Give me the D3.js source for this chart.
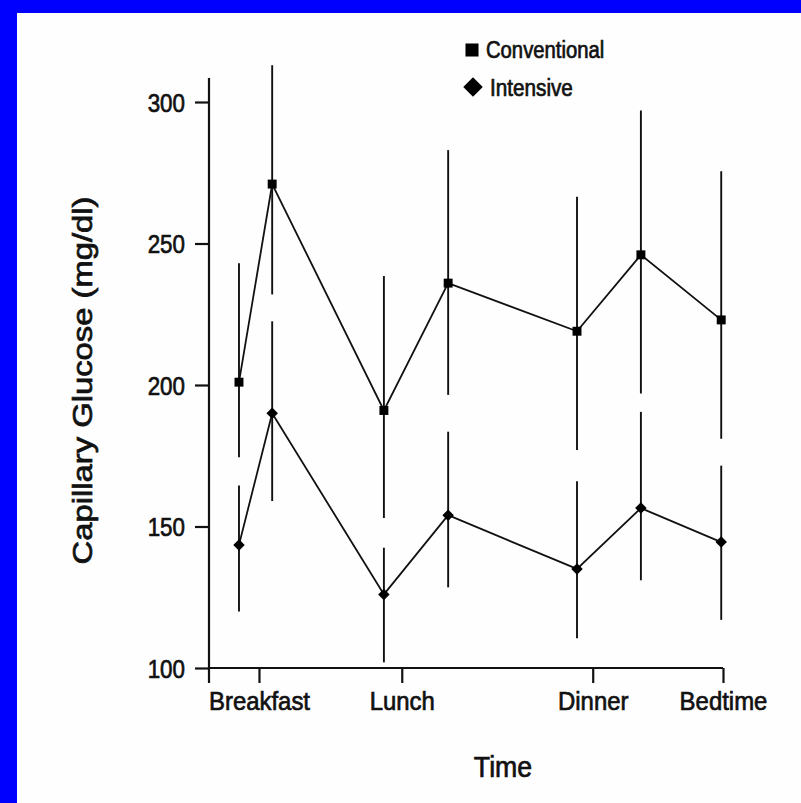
<!DOCTYPE html>
<html>
<head>
<meta charset="utf-8">
<script src="https://cdn.jsdelivr.net/npm/d3@7"></script>
<style>
  html, body { margin: 0; padding: 0; background: #0000ff; }
  svg { display: block; }
  text { font-family: "Liberation Sans", Arial, Helvetica, sans-serif; fill: #111; stroke: #111; stroke-width: 0.7px; }
</style>
</head>
<body>
<svg id="chart" width="801" height="803"></svg>
<script>
// ---- data ----
const times = [7.44, 8.37, 11.5, 13.3, 16.91, 18.7, 20.95];          // hour of measurement
const conventional     = [201, 271, 191, 236, 219, 246, 223];
const conventionalHigh = [243, 313, 238.5, 283, 266.5, 297, 275.5];
const conventionalLow  = [174.5, 232, 153, 196.5, 177, 197, 181];
const intensive        = [143.5, 190, 126, 154, 135, 156.5, 144.5];
const intensiveHigh    = [164.5, 222.5, 142.5, 183.5, 166, 190.5, 171.5];
const intensiveLow     = [120, 159, 102, 128.5, 110.5, 131, 117];
const timeTickValues = [8, 12, 17.35, 21];
const timeTickLabels = ["Breakfast", "Lunch", "Dinner", "Bedtime"];
const glucoseTicks = [100, 150, 200, 250, 300];
const seriesNames = ["Conventional", "Intensive"];

// ---- layout ----
const svg = d3.select("#chart");
svg.append("rect").attr("x", 17).attr("y", 13).attr("width", 801 - 17).attr("height", 803 - 13).attr("fill", "#fefefe");

const x = d3.scaleLinear().domain([6.6, 21]).range([209, 723]);
const y = d3.scaleLinear().domain([100, 300]).range([668, 102]);

function condense(sel, factor) {
  sel.each(function () {
    const w = this.getComputedTextLength();
    d3.select(this).attr("textLength", w * factor).attr("lengthAdjust", "spacingAndGlyphs");
  });
}

// axes lines (extend past the domain as in the original)
const axisColor = "#111";
svg.append("line").attr("x1", x(6.6)).attr("x2", x(6.6)).attr("y1", y(308.5)).attr("y2", y(94.7))
  .attr("stroke", axisColor).attr("stroke-width", 2.2);
svg.append("line").attr("x1", x(6.6)).attr("x2", x(21)).attr("y1", y(100)).attr("y2", y(100))
  .attr("stroke", axisColor).attr("stroke-width", 2.2);

// y axis ticks
const yAxis = d3.axisLeft(y).tickValues(glucoseTicks).tickSize(14).tickSizeOuter(0).tickPadding(10);
const gy = svg.append("g").attr("transform", `translate(${x(6.6)},0)`).call(yAxis);
gy.select(".domain").remove();
gy.selectAll(".tick line").attr("stroke", axisColor).attr("stroke-width", 2.2);
gy.selectAll(".tick text").attr("font-size", 26).attr("fill", "#111").attr("dy", "0.36em")
  .attr("font-family", "Liberation Sans, Arial, sans-serif").call(condense, 0.86);

// x axis ticks
const xAxis = d3.axisBottom(x).tickValues(timeTickValues).tickSize(15).tickSizeOuter(0).tickPadding(9)
  .tickFormat((d, i) => timeTickLabels[i]);
const gx = svg.append("g").attr("transform", `translate(0,${y(100)})`).call(xAxis);
gx.select(".domain").remove();
gx.selectAll(".tick line").attr("stroke", axisColor).attr("stroke-width", 2.2);
gx.selectAll(".tick text").attr("font-size", 26).attr("fill", "#111")
  .attr("font-family", "Liberation Sans, Arial, sans-serif").call(condense, 0.92);

// axis titles
svg.append("text").attr("x", 503).attr("y", 777).attr("text-anchor", "middle")
  .attr("font-size", 29).text("Time").call(condense, 0.92);
svg.append("text").attr("transform", `translate(92,${(198 + 563) / 2}) rotate(-90)`)
  .attr("text-anchor", "middle").attr("font-size", 27)
  .text("Capillary Glucose (mg/dl)")
  .attr("textLength", 368).attr("lengthAdjust", "spacingAndGlyphs");

// ---- marks ----
const lineColor = "#111";
const idx = d3.range(times.length);

// error bars
const bars = svg.append("g").attr("stroke", lineColor).attr("stroke-width", 1.9);
bars.selectAll(".ebc").data(idx).join("line")
  .attr("x1", i => x(times[i])).attr("x2", i => x(times[i]))
  .attr("y1", i => y(conventionalHigh[i])).attr("y2", i => y(conventionalLow[i]));
bars.selectAll(".ebi").data(idx).join("line").attr("class", "ebi")
  .attr("x1", i => x(times[i])).attr("x2", i => x(times[i]))
  .attr("y1", i => y(intensiveHigh[i])).attr("y2", i => y(intensiveLow[i]));

// lines
const line = d3.line().x((d, i) => x(times[i])).y(d => y(d));
svg.append("path").datum(conventional).attr("d", line).attr("fill", "none")
  .attr("stroke", lineColor).attr("stroke-width", 1.8);
svg.append("path").datum(intensive).attr("d", line).attr("fill", "none")
  .attr("stroke", lineColor).attr("stroke-width", 1.8);

// markers
const square = d3.symbol().type(d3.symbolSquare);
svg.append("g").selectAll("path").data(idx).join("path")
  .attr("d", square.size(80)())
  .attr("transform", i => `translate(${x(times[i])},${y(conventional[i])})`)
  .attr("fill", "#000");
svg.append("g").selectAll("path").data(idx).join("path")
  .attr("d", square.size(66)())
  .attr("transform", i => `translate(${x(times[i])},${y(intensive[i])}) rotate(45)`)
  .attr("fill", "#000");

// ---- legend ----
const legend = svg.append("g");
legend.append("path").attr("d", d3.symbol().type(d3.symbolSquare).size(170)())
  .attr("transform", "translate(472,50)").attr("fill", "#000");
legend.append("path").attr("d", d3.symbol().type(d3.symbolSquare).size(190)())
  .attr("transform", "translate(473,87) rotate(45)").attr("fill", "#000");
legend.append("text").attr("x", 486).attr("y", 58).attr("font-size", 23)
  .text(seriesNames[0]).call(condense, 0.88);
legend.append("text").attr("x", 490).attr("y", 96).attr("font-size", 23)
  .text(seriesNames[1]).call(condense, 0.9);
</script>
</body>
</html>
